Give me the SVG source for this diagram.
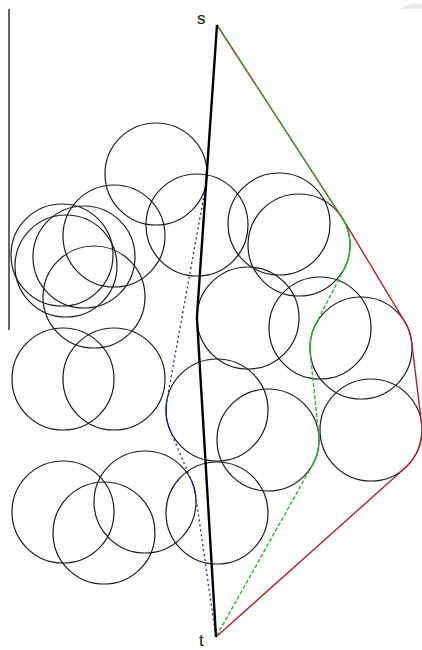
<svg xmlns="http://www.w3.org/2000/svg" width="422" height="650" viewBox="0 0 422 650">
<style>
.c{fill:none;stroke:#1a1a1a;stroke-width:1.2}
.lbl{font-family:"Liberation Sans",Arial,sans-serif;font-size:17px;fill:#111}
.red{fill:none;stroke:#b0252d;stroke-width:1.4}
.gd{fill:none;stroke:#2fb52f;stroke-width:1.4;stroke-dasharray:4,2}
.gs{fill:none;stroke:#2fb52f;stroke-width:1.4}
.bd{fill:none;stroke:#2e2e7a;stroke-width:1.4;stroke-dasharray:2,3}
.bs{fill:none;stroke:#1f1f90;stroke-width:1.2}
.blk{fill:none;stroke:#000;stroke-width:2.4}
</style>
<rect width="422" height="650" fill="#fff"/>
<path d="M400,9 Q410,2 422,4 L422,9 Z" fill="#ebebeb"/>
<line x1="9" y1="9" x2="9" y2="330" stroke="#000" stroke-width="1.2"/>
<g id="obstacles">
<g id="n1"><circle class="c" cx="156" cy="174" r="51"/></g>
<g id="n2"><circle class="c" cx="197" cy="225" r="51"/></g>
<g id="n3"><circle class="c" cx="114" cy="236" r="51"/></g>
<g id="n4"><circle class="c" cx="62" cy="255" r="51"/></g>
<g id="n5"><circle class="c" cx="66" cy="266" r="51"/></g>
<g id="n6"><circle class="c" cx="84" cy="257" r="51"/></g>
<g id="n7"><circle class="c" cx="94" cy="297" r="51"/></g>
<g id="n8"><circle class="c" cx="279" cy="224" r="51"/></g>
<g id="n9"><circle class="c" cx="299" cy="245" r="51"/></g>
<g id="n10"><circle class="c" cx="248" cy="318" r="51"/></g>
<g id="n11"><circle class="c" cx="320" cy="328" r="51"/></g>
<g id="n12"><circle class="c" cx="361" cy="348" r="51"/></g>
<g id="n13"><circle class="c" cx="63" cy="379" r="51"/></g>
<g id="n14"><circle class="c" cx="114" cy="379" r="51"/></g>
<g id="n15"><circle class="c" cx="217" cy="410" r="51"/></g>
<g id="n16"><circle class="c" cx="268" cy="440" r="51"/></g>
<g id="n17"><circle class="c" cx="371" cy="430" r="51"/></g>
<g id="n18"><circle class="c" cx="63" cy="512" r="51"/></g>
<g id="n19"><circle class="c" cx="145" cy="502" r="51"/></g>
<g id="n20"><circle class="c" cx="104" cy="533" r="51"/></g>
<g id="n21"><circle class="c" cx="217" cy="513" r="51"/></g>
</g>
<g id="connectors">
<path class="red" d="M217,25 L341.8,217.3 A51,51 0 0 1 342.7,218.7 L404.7,321.7 A51,51 0 0 1 411.6,341.8 L421.6,423.8 A51,51 0 0 1 405,468 L216,637"/>
<path class="gd" d="M217,25 L341.8,217.3"/>
<path class="gs" d="M341.8,217.3 A51,51 0 0 1 344.5,268.2"/>
<path class="gd" d="M344.5,268.2 L315.5,324.8"/>
<path class="gs" d="M315.5,324.8 A51,51 0 0 0 310.3,353.3"/>
<path class="gd" d="M310.3,353.3 L318.7,434.7"/>
<path class="gs" d="M318.7,434.7 A51,51 0 0 1 312.5,464.9"/>
<path class="gd" d="M312.5,464.9 L216,637"/>
<path class="bd" d="M206.2,183.2 L166.8,400.8"/>
<path class="bs" d="M166.8,400.8 A51,51 0 0 0 170,430"/>
<path class="bd" d="M170,430 L192,482"/>
<path class="bs" d="M192,482 A51,51 0 0 1 195.5,494.7"/>
<path class="bd" d="M195.5,494.7 L216,637"/>
<path class="blk" d="M217,25 L197.1,314.5 A51,51 0 0 0 197.1,321 L216,637"/>
</g>
<g id="s"><text class="lbl" x="197" y="24">s</text></g>
<g id="t"><text class="lbl" x="199" y="646">t</text></g>
</svg>
